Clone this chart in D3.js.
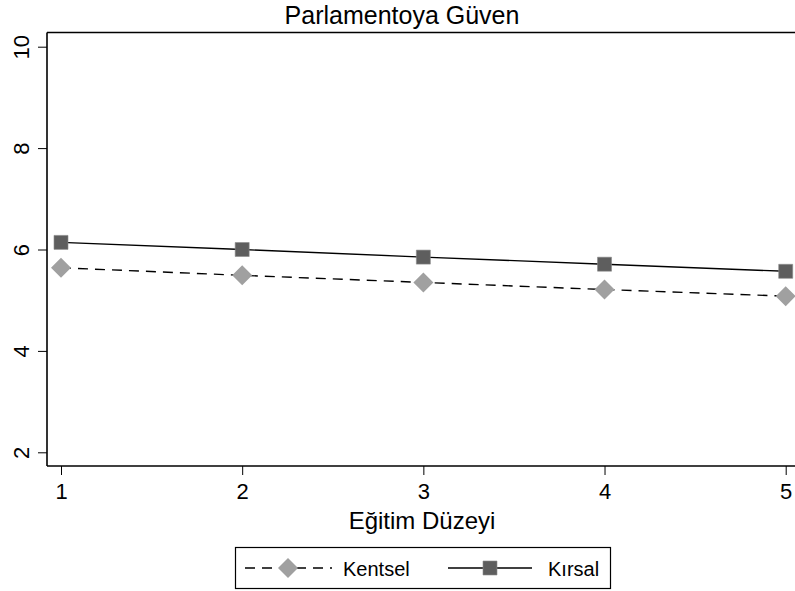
<!DOCTYPE html>
<html>
<head>
<meta charset="utf-8">
<script src="https://cdn.jsdelivr.net/npm/d3@7"></script>
<style>
  body { margin: 0; background: #fff; }
  text { font-family: "Liberation Sans", Arial, sans-serif; fill: #000; }
</style>
</head>
<body>
<div id="chart"></div>
<script>
// values
var egitim = [1, 2, 3, 4, 5];
var kentsel = [5.64, 5.49, 5.35, 5.21, 5.08];
var kirsal = [6.14, 6.00, 5.85, 5.71, 5.57];
var yTicks = [2, 4, 6, 8, 10];
var seriesNames = ["Kentsel", "Kırsal"];

var width = 795, height = 591;
var plotLeft = 47, plotRight = 800, plotTop = 32.5, plotBottom = 466;

var svg = d3.select('#chart')
    .append('svg')
    .attr('width', width)
    .attr('height', height);

var x = d3.scaleLinear().domain([1, 5]).range([61, 785.7]);
var y = d3.scaleLinear().domain([2, 10]).range([452.3, 46.7]);

// title
svg.append('text')
    .text("Parlamentoya Güven")
    .attr('x', 402)
    .attr('y', 24)
    .attr('text-anchor', 'middle')
    .attr('font-size', 25);

// top frame line
svg.append('line')
    .attr('x1', plotLeft).attr('x2', plotRight)
    .attr('y1', plotTop).attr('y2', plotTop)
    .attr('stroke', '#000').attr('stroke-width', 1.3);

// x axis
var xAxis = svg.append('g')
    .attr('transform', 'translate(0,' + plotBottom + ')')
    .call(d3.axisBottom(x).tickValues(egitim).tickSize(9).tickPadding(8).tickFormat(d3.format('d')));
xAxis.select('.domain').remove();
xAxis.append('line')
    .attr('x1', plotLeft).attr('x2', plotRight)
    .attr('stroke', '#000').attr('stroke-width', 1.6);
xAxis.selectAll('.tick line').attr('stroke', '#000').attr('stroke-width', 1);
xAxis.selectAll('.tick text')
    .attr('font-size', 22)
    .attr('font-family', '"Liberation Sans", Arial, sans-serif')
    .attr('fill', '#000');

// y axis
var yAxis = svg.append('g')
    .attr('transform', 'translate(' + plotLeft + ',0)')
    .call(d3.axisLeft(y).tickValues(yTicks).tickSize(9).tickFormat(d3.format('d')));
yAxis.select('.domain').remove();
yAxis.append('line')
    .attr('y1', plotTop).attr('y2', plotBottom)
    .attr('stroke', '#000').attr('stroke-width', 1.6);
yAxis.selectAll('.tick line').attr('stroke', '#000').attr('stroke-width', 1);
yAxis.selectAll('.tick text')
    .attr('x', null).attr('dy', null)
    .attr('transform', 'translate(-18,0) rotate(-90)')
    .attr('text-anchor', 'middle')
    .attr('font-size', 22)
    .attr('font-family', '"Liberation Sans", Arial, sans-serif')
    .attr('fill', '#000');

// x axis title
svg.append('text')
    .text("Eğitim Düzeyi")
    .attr('x', 422)
    .attr('y', 529)
    .attr('text-anchor', 'middle')
    .attr('font-size', 24);

var line = d3.line()
    .x(function(d, i) { return x(egitim[i]); })
    .y(function(d) { return y(d); });

// Kentsel: dashed line, grey diamonds
svg.append('path')
    .datum(kentsel)
    .attr('d', line)
    .attr('fill', 'none')
    .attr('stroke', '#000')
    .attr('stroke-width', 1.4)
    .attr('stroke-dasharray', '10,7');

var diamond = d3.symbol().type(d3.symbolSquare).size(200);
svg.selectAll('.kentsel')
    .data(kentsel)
    .enter().append('path')
    .attr('class', 'kentsel')
    .attr('d', diamond)
    .attr('transform', function(d, i) { return 'translate(' + x(egitim[i]) + ',' + y(d) + ') rotate(45)'; })
    .attr('fill', '#a0a0a0');

// Kırsal: solid line, dark squares
svg.append('path')
    .datum(kirsal)
    .attr('d', line)
    .attr('fill', 'none')
    .attr('stroke', '#000')
    .attr('stroke-width', 1.4);

var square = d3.symbol().type(d3.symbolSquare).size(196);
svg.selectAll('.kirsal')
    .data(kirsal)
    .enter().append('path')
    .attr('class', 'kirsal')
    .attr('d', square)
    .attr('transform', function(d, i) { return 'translate(' + x(egitim[i]) + ',' + y(d) + ')'; })
    .attr('fill', '#5e5e5e')
    .attr('stroke', '#8a8a8a')
    .attr('stroke-width', 0.6);

// legend
var legend = svg.append('g');
legend.append('rect')
    .attr('x', 235.5).attr('y', 547.5)
    .attr('width', 375).attr('height', 41)
    .attr('fill', '#fff')
    .attr('stroke', '#000')
    .attr('stroke-width', 1.2);

legend.append('line')
    .attr('x1', 245).attr('x2', 332)
    .attr('y1', 568).attr('y2', 568)
    .attr('stroke', '#000').attr('stroke-width', 1.4)
    .attr('stroke-dasharray', '10,7');
legend.append('path')
    .attr('d', diamond)
    .attr('transform', 'translate(288,568) rotate(45)')
    .attr('fill', '#a0a0a0');
legend.append('text')
    .text(seriesNames[0])
    .attr('x', 343).attr('y', 576)
    .attr('font-size', 20);

legend.append('line')
    .attr('x1', 448).attr('x2', 532)
    .attr('y1', 568).attr('y2', 568)
    .attr('stroke', '#000').attr('stroke-width', 1.4);
legend.append('path')
    .attr('d', square)
    .attr('transform', 'translate(490,568)')
    .attr('fill', '#5e5e5e')
    .attr('stroke', '#8a8a8a')
    .attr('stroke-width', 0.6);
legend.append('text')
    .text(seriesNames[1])
    .attr('x', 548).attr('y', 576)
    .attr('font-size', 20);
</script>
</body>
</html>
